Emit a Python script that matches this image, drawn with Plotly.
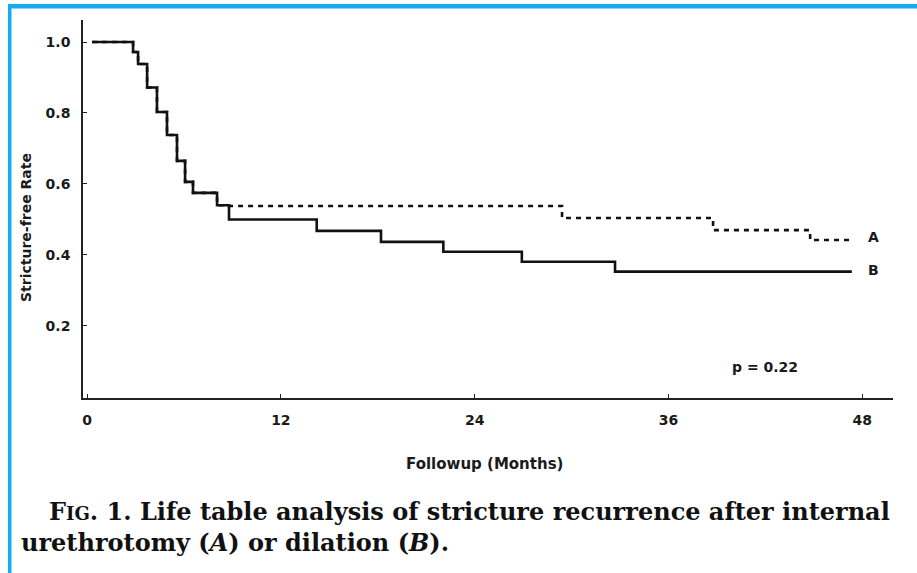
import plotly.graph_objects as go

# ---------------- data ----------------
# shared early part of both curves (months, stricture-free rate)
shared_t = [0.31, 2.85, 3.16, 3.72, 4.33, 4.95, 5.57, 6.07, 6.56, 8.05]
shared_v = [1.000, 0.972, 0.938, 0.872, 0.803, 0.738, 0.665, 0.606, 0.575, 0.540]

# curve A (internal urethrotomy) after divergence
a_t = [8.79, 29.41, 38.76, 44.77, 47.37]
a_v = [0.538, 0.504, 0.470, 0.442, 0.442]

# curve B (dilation) after divergence
b_t = [8.79, 14.22, 18.20, 22.06, 26.92, 32.69, 47.35]
b_v = [0.500, 0.468, 0.437, 0.409, 0.381, 0.353, 0.353]

x_ticks = [0, 12, 24, 36, 48]
y_ticks = [0.2, 0.4, 0.6, 0.8, 1.0]
y_tick_text = ["0.2", "0.4", "0.6", "0.8", "1.0"]

label_a = "A"
label_b = "B"
p_text = "p = 0.22"
x_title = "Followup (Months)"
y_title = "Stricture-free Rate"
caption_1 = "F<span style='font-size:18px'>IG</span>. 1. Life table analysis of stricture recurrence after internal"
caption_2 = "urethrotomy (<i>A</i>) or dilation (<i>B</i>)."

W, H = 917, 573


def px(x):
    return x / W


def py(y):
    return 1 - y / H


fig = go.Figure()

fig.add_trace(go.Scatter(
    x=shared_t + a_t, y=shared_v + a_v, mode="lines", line_shape="hv",
    line=dict(color="#111111", width=2.6, dash="5px,5px"), showlegend=False,
    hoverinfo="skip"))
fig.add_trace(go.Scatter(
    x=shared_t + b_t, y=shared_v + b_v, mode="lines", line_shape="hv",
    line=dict(color="#111111", width=2.6), showlegend=False, hoverinfo="skip"))

sans = "DejaVu Sans"
ink = "#1a1a1a"
tick_font = dict(family=sans, size=14, color=ink, weight="bold")

fig.update_layout(
    width=W, height=H,
    margin=dict(l=0, r=0, t=0, b=0),
    paper_bgcolor="white", plot_bgcolor="white",
    xaxis=dict(domain=[px(83), px(893)], range=[-0.25, 49.9],
               tickvals=x_ticks, ticktext=[str(v) for v in x_ticks],
               showgrid=False, zeroline=False, showline=True,
               linecolor="#222222", linewidth=1.6,
               ticks="inside", ticklen=4, tickwidth=1.2, tickcolor="#222222",
               tickfont=tick_font, ticklabelstandoff=8, fixedrange=True),
    yaxis=dict(domain=[py(398), py(20)], range=[-0.003, 1.062],
               tickvals=y_ticks, ticktext=y_tick_text,
               showgrid=False, zeroline=False, showline=True,
               linecolor="#222222", linewidth=1.6,
               ticks="inside", ticklen=4, tickwidth=1.2, tickcolor="#222222",
               tickfont=tick_font, ticklabelstandoff=8, fixedrange=True),
)

ann_font = dict(family=sans, size=14, color=ink, weight="bold")
fig.add_annotation(x=48.7, y=0.45, xref="x", yref="y", text=label_a,
                   showarrow=False, font=ann_font)
fig.add_annotation(x=48.7, y=0.358, xref="x", yref="y", text=label_b,
                   showarrow=False, font=ann_font)
fig.add_annotation(x=42.0, y=0.085, xref="x", yref="y", text=p_text,
                   showarrow=False, font=ann_font)

fig.add_annotation(x=px(485), y=py(464), xref="paper", yref="paper", text=x_title,
                   xanchor="center", yanchor="middle", showarrow=False,
                   font=dict(family=sans, size=15, color=ink, weight="bold"))
fig.add_annotation(x=px(26), y=py(228), xref="paper", yref="paper", text=y_title,
                   xanchor="center", yanchor="middle", textangle=-90, showarrow=False,
                   font=dict(family=sans, size=14, color=ink, weight="bold"))

serif = "DejaVu Serif"
fig.add_annotation(x=px(47), y=py(511), xref="paper", yref="paper", text=caption_1,
                   xanchor="left", yanchor="middle", showarrow=False,
                   font=dict(family=serif, size=24, color="#111111", weight="bold"))
fig.add_annotation(x=px(19), y=py(542), xref="paper", yref="paper", text=caption_2,
                   xanchor="left", yanchor="middle", showarrow=False,
                   font=dict(family=serif, size=24, color="#111111", weight="bold"))

# blue frame (top and left edges)
border = "#14AEEF"
fig.add_shape(type="rect", xref="paper", yref="paper",
              x0=px(8), x1=1.0, y0=py(8.5), y1=py(4), line_width=0, fillcolor=border)
fig.add_shape(type="rect", xref="paper", yref="paper",
              x0=px(8), x1=px(11.5), y0=0.0, y1=py(4), line_width=0, fillcolor=border)

fig.write_html("out.html", config={"displayModeBar": False},
               post_script="document.body.style.margin='0';document.body.style.overflow='hidden';")
